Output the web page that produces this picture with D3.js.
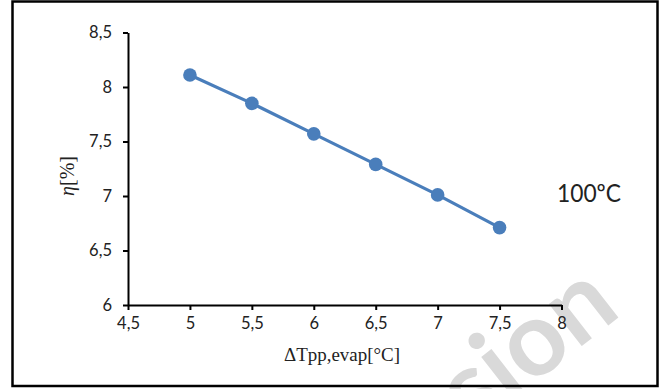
<!DOCTYPE html>
<html><head><meta charset="utf-8">
<script src="https://cdn.jsdelivr.net/npm/d3@7"></script>
<style>body{margin:0;background:#fff}svg{display:block}</style>
</head><body>
<script>
const xValues = [5, 5.5, 6, 6.5, 7, 7.5];
const etaValues = [8.11, 7.85, 7.57, 7.29, 7.01, 6.71];
const xTicks = [4.5, 5, 5.5, 6, 6.5, 7, 7.5, 8];
const yTicks = [6, 6.5, 7, 7.5, 8, 8.5];
const xTitle = "ΔTpp,evap[°C]";
const yTitleSymbol = "η";
const yTitleUnit = "[%]";
const annotation = "100ºC";
const watermark = "Version";

const W = 666, H = 389;
const svg = d3.select("body").append("svg").attr("width", W).attr("height", H);

// watermark (only its end shows inside the frame)
svg.append("text").attr("transform","translate(623,314) rotate(-38)")
  .attr("text-anchor","end")
  .attr("font-family","Lato, sans-serif").attr("font-weight",700).attr("font-size",104).attr("fill","#d9d9d9")
  .text(watermark);

svg.append("rect").attr("x",12.5).attr("y",1.5).attr("width",645).attr("height",384.5)
  .attr("fill","none").attr("stroke","#000").attr("stroke-width",2.5);

const x = d3.scaleLinear().domain([4.5, 8]).range([128, 561.5]);
const y = d3.scaleLinear().domain([6, 8.5]).range([305, 32.5]);
const fmt = d => String(d).replace(".", ",");

const xa = svg.append("g").attr("transform","translate(0,305)")
  .call(d3.axisBottom(x).tickValues(xTicks).tickFormat(fmt).tickSize(5).tickSizeOuter(0));
const ya = svg.append("g").attr("transform","translate(128,0)")
  .call(d3.axisLeft(y).tickValues(yTicks).tickFormat(fmt).tickSize(5).tickSizeOuter(0));
[xa, ya].forEach(a => {
  a.select(".domain").attr("stroke","#000").attr("stroke-width",2);
  a.selectAll(".tick line").attr("stroke","#000").attr("stroke-width",2);
  a.selectAll(".tick text").attr("font-family","Lato, sans-serif").attr("font-size",16.5).attr("fill","#222");
});
xa.selectAll(".tick text").attr("dy","0.71em").attr("y",12);
ya.selectAll(".tick text").attr("x",-16);

const pts = xValues.map((v,i)=>[v, etaValues[i]]);
svg.append("path").datum(pts)
  .attr("d", d3.line().x(d=>x(d[0])).y(d=>y(d[1])))
  .attr("fill","none").attr("stroke","#4a7ebb").attr("stroke-width",3.2);
svg.selectAll("circle.pt").data(pts).enter().append("circle")
  .attr("cx",d=>x(d[0])).attr("cy",d=>y(d[1])).attr("r",6.8).attr("fill","#4a7ebb");

svg.append("text").attr("x",342).attr("y",361).attr("text-anchor","middle")
  .attr("font-family","Liberation Serif, serif").attr("font-size",19).attr("fill","#222")
  .attr("textLength",116).attr("lengthAdjust","spacingAndGlyphs").text(xTitle);
const yt = svg.append("text").attr("transform","translate(74,176) rotate(-90)").attr("text-anchor","middle")
  .attr("font-family","Liberation Serif, serif").attr("font-size",20).attr("fill","#222");
yt.append("tspan").attr("font-style","italic").text(yTitleSymbol);
yt.append("tspan").text(yTitleUnit);
svg.append("text").attr("x",557).attr("y",202)
  .attr("font-family","Lato, sans-serif").attr("font-size",25).attr("fill","#222")
  .attr("textLength",64).attr("lengthAdjust","spacingAndGlyphs").text(annotation);
</script>
</body></html>
